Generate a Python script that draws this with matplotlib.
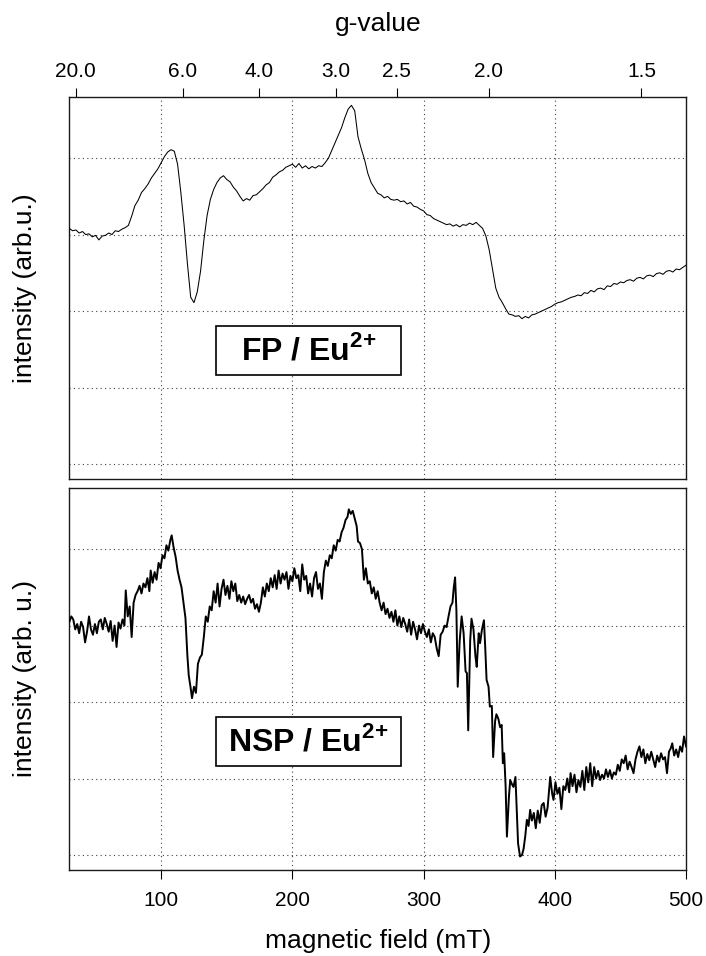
import matplotlib
matplotlib.use("Agg")
import matplotlib.pyplot as plt
from matplotlib.patches import Rectangle

plt.rcParams["font.family"] = ["Liberation Sans", "DejaVu Sans"]
plt.rcParams["mathtext.fontset"] = "custom"
plt.rcParams["mathtext.rm"] = "Liberation Sans"
plt.rcParams["mathtext.bf"] = "Liberation Sans:bold"

# h*nu/mu_B in mT, used to place the g-value ticks
G_CONST = 699.0

# FP / Eu2+ spectrum (magnetic field in mT, intensity arb. u.)
fp_field = [
    30, 32.5, 35, 37.5, 40, 42.5, 45, 47.5, 50, 52.5, 55, 57.5, 60, 62.5, 65, 67.5,
    70, 72.5, 75, 77.5, 80, 82.5, 85, 87.5, 90, 92.5, 95, 97.5, 100, 102.5, 105, 107.5,
    110, 112.5, 115, 117.5, 120, 122.5, 125, 127.5, 130, 132.5, 135, 137.5, 140, 142.5,
    145, 147.5, 150, 152.5, 155, 157.5, 160, 162.5, 165, 167.5, 170, 172.5, 175, 177.5,
    180, 182.5, 185, 187.5, 190, 192.5, 195, 197.5, 200, 202.5, 205, 207.5, 210, 212.5,
    215, 217.5, 220, 222.5, 225, 227.5, 230, 232.5, 235, 237.5, 240, 242.5, 245, 247.5,
    250, 252.5, 255, 257.5, 260, 262.5, 265, 267.5, 270, 272.5, 275, 277.5, 280, 282.5,
    285, 287.5, 290, 292.5, 295, 297.5, 300, 302.5, 305, 307.5, 310, 312.5, 315, 317.5,
    320, 322.5, 325, 327.5, 330, 332.5, 335, 337.5, 340, 342.5, 345, 347.5, 350, 352.5,
    355, 357.5, 360, 362.5, 365, 367.5, 370, 372.5, 375, 377.5, 380, 382.5, 385, 387.5,
    390, 392.5, 395, 397.5, 400, 402.5, 405, 407.5, 410, 412.5, 415, 417.5, 420, 422.5,
    425, 427.5, 430, 432.5, 435, 437.5, 440, 442.5, 445, 447.5, 450, 452.5, 455, 457.5,
    460, 462.5, 465, 467.5, 470, 472.5, 475, 477.5, 480, 482.5, 485, 487.5, 490, 492.5,
    495, 497.5, 500,
]
fp_intensity = [
    3.08, 3.05, 3.06, 3.02, 3.04, 3.00, 3.01, 2.97, 2.99, 2.93, 2.98, 2.99, 3.02, 3.00, 3.05, 3.04,
    3.07, 3.09, 3.12, 3.24, 3.38, 3.45, 3.55, 3.60, 3.66, 3.74, 3.80, 3.86, 3.94, 4.02, 4.08, 4.11,
    4.09, 3.92, 3.55, 3.12, 2.62, 2.18, 2.11, 2.25, 2.52, 2.92, 3.25, 3.46, 3.59, 3.68,
    3.74, 3.77, 3.72, 3.69, 3.62, 3.57, 3.50, 3.44, 3.47, 3.45, 3.51, 3.52, 3.56, 3.60,
    3.65, 3.68, 3.75, 3.78, 3.82, 3.84, 3.88, 3.90, 3.92, 3.88, 3.93, 3.87, 3.90, 3.86,
    3.89, 3.87, 3.90, 3.89, 3.94, 4.00, 4.10, 4.20, 4.30, 4.40, 4.53, 4.64, 4.69, 4.62,
    4.28, 4.12, 3.98, 3.80, 3.68, 3.61, 3.54, 3.52, 3.48, 3.50, 3.46, 3.45, 3.46, 3.43,
    3.44, 3.40, 3.42, 3.37, 3.36, 3.33, 3.31, 3.26, 3.25, 3.21, 3.19, 3.17, 3.15, 3.13,
    3.14, 3.11, 3.13, 3.10, 3.13, 3.12, 3.15, 3.13, 3.16, 3.12, 3.08, 2.98, 2.80, 2.55,
    2.30, 2.18, 2.11, 2.03, 1.96, 1.95, 1.93, 1.94, 1.90, 1.93, 1.91, 1.95, 1.96, 1.98,
    2.00, 2.02, 2.04, 2.06, 2.09, 2.11, 2.12, 2.14, 2.16, 2.18, 2.19, 2.21, 2.20, 2.24,
    2.23, 2.27, 2.25, 2.29, 2.30, 2.28, 2.33, 2.32, 2.36, 2.35, 2.38, 2.37, 2.40, 2.41,
    2.39, 2.43, 2.44, 2.42, 2.46, 2.47, 2.45, 2.49, 2.50, 2.48, 2.52, 2.53, 2.51, 2.55,
    2.54, 2.57, 2.60,
]

# NSP / Eu2+ spectrum
nsp_field = [
    30, 31.5, 33, 34.5, 36, 37.5, 39, 40.5, 42, 43.5, 45, 46.5, 48, 49.5, 51, 52.5, 54, 55.5,
    57, 58.5, 60, 61.5, 63, 64.5, 66, 67.5, 69, 70.5, 72, 73, 74.5, 76, 77.5, 79, 80.5, 82,
    83.5, 85, 86.5, 88, 89.5, 91, 92, 93.5, 95, 96.5, 98, 99.5, 101, 102.5, 104, 105.5, 107,
    108, 109.5, 111, 112.5, 114, 115.5, 117, 118.5, 120, 121, 122.5, 123.5, 125, 126.5, 128,
    129.5, 131, 132.5, 134, 135.5, 137, 138.5, 140, 141.5, 143, 144.5, 146, 147.5, 149, 150.5,
    152, 153.5, 155, 156.5, 158, 159.5, 161, 162.5, 164, 165.5, 167, 168.5, 170, 171.5, 173,
    174.5, 176, 177.5, 179, 180.5, 182, 183.5, 185, 186.5, 188, 189.5, 191, 192.5, 194, 195.5,
    197, 198.5, 200, 201.5, 203, 204.5, 206, 207.5, 209, 210.5, 212, 213.5, 215, 216.5, 218,
    219.5, 221, 222.5, 224, 225.5, 227, 228.5, 230, 231.5, 233, 234.5, 236, 237.5, 239, 240.5,
    242, 243, 244.5, 246, 247.5, 249, 250, 251.5, 253, 254.5, 256, 257.5, 259, 260.5, 262,
    263.5, 265, 266.5, 268, 269.5, 271, 272.5, 274, 275.5, 277, 278.5, 280, 281.5, 283, 284.5,
    286, 287.5, 289, 290.5, 292, 293.5, 295, 296.5, 298, 299.5, 301, 302.5, 304, 305.5, 307,
    308.5, 310, 311.5, 313, 314.5, 316, 317.5, 319, 320.5, 322, 323, 324, 325, 326, 327.5, 329,
    330.5, 332, 333, 334, 335.5, 336.5, 338, 339.5, 340.5, 342, 343, 344.5, 346, 347, 348,
    349.5, 350.5, 352, 353, 354.5, 355.5, 357, 358.3, 359.5, 360.4, 361.4, 362.5, 363.5, 365,
    366, 367.5, 368.5, 370, 371, 372, 373.5, 375, 376.2, 377.5, 378.7, 380, 381.2, 382.5, 384,
    385.5, 387, 388.5, 390, 391.5, 393, 394.5, 396.5, 398, 399, 400.5, 402, 403.5, 405, 406.5,
    408, 409.5, 411, 412, 413.5, 415, 416.5, 418, 419.5, 421, 422.5, 424, 425.5, 427, 428.5,
    430, 431.5, 433, 434.5, 436, 437.5, 439, 440.5, 442, 443.5, 445, 446.5, 448, 449.5, 451,
    452.5, 454, 455.5, 457, 458.5, 460, 461.5, 463, 464.5, 466, 467.5, 469, 470.5, 472, 473.5,
    475, 476.5, 478, 479.5, 481, 482.5, 484, 485.5, 487, 488.5, 489.5, 491, 492.5, 494, 495.5,
    497, 498.5, 500,
]
nsp_intensity = [
    3.05, 3.12, 3.08, 2.95, 3.02, 2.90, 3.05, 2.98, 2.78, 2.92, 3.12, 2.95, 2.88, 3.02, 2.90, 3.05, 3.08, 2.95,
    3.10, 3.02, 2.92, 3.06, 2.80, 3.00, 2.72, 3.04, 2.96, 3.08, 3.00, 3.46, 3.12, 3.25, 2.85, 3.30, 3.40, 3.45,
    3.52, 3.42, 3.55, 3.50, 3.62, 3.45, 3.72, 3.56, 3.70, 3.60, 3.82, 3.75, 3.92, 3.88, 4.05, 3.98, 4.12,
    4.18, 4.02, 3.90, 3.72, 3.60, 3.50, 3.30, 3.10, 2.60, 2.35, 2.18, 2.05, 2.20, 2.12, 2.50,
    2.58, 2.62, 2.85, 3.12, 3.05, 3.25, 3.20, 3.45, 3.30, 3.55, 3.25, 3.48, 3.60, 3.40, 3.52,
    3.35, 3.58, 3.45, 3.55, 3.32, 3.40, 3.30, 3.38, 3.28, 3.35, 3.40, 3.30, 3.35, 3.22, 3.28,
    3.18, 3.30, 3.50, 3.38, 3.55, 3.45, 3.62, 3.50, 3.66, 3.48, 3.72, 3.55, 3.68, 3.60, 3.70,
    3.48, 3.65, 3.58, 3.75, 3.62, 3.66, 3.45, 3.80, 3.60, 3.65, 3.42, 3.55, 3.38, 3.62, 3.70,
    3.48, 3.55, 3.35, 3.70, 3.85, 3.78, 3.92, 3.88, 4.05, 3.98, 4.12, 4.10, 4.22, 4.28, 4.38,
    4.42, 4.52, 4.46, 4.50, 4.40, 4.30, 4.10, 4.08, 4.00, 3.60, 3.75, 3.55, 3.58, 3.42, 3.50,
    3.35, 3.45, 3.30, 3.20, 3.30, 3.15, 3.22, 3.10, 3.18, 3.05, 3.20, 3.00, 3.12, 2.98, 3.10,
    3.02, 2.92, 3.08, 2.88, 3.05, 2.95, 2.82, 3.00, 2.90, 3.02, 2.92, 2.85, 2.95, 2.78, 2.90,
    2.85, 2.70, 2.60, 2.88, 2.92, 3.00, 2.98, 3.12, 3.25, 3.30, 3.50, 3.63, 3.20, 2.20, 2.80, 3.12,
    2.90, 2.40, 2.38, 1.63, 2.80, 3.09, 2.95, 2.60, 2.46, 2.90, 2.77, 2.95, 3.07, 2.70, 2.29,
    2.20, 1.94, 1.95, 1.28, 1.75, 1.84, 1.78, 1.67, 1.70, 1.20, 1.33, 0.90, 0.24, 0.75,
    0.98, 0.92, 0.89, 1.02, 0.60, 0.15, -0.02, 0.00, 0.08, 0.25, 0.46, 0.38, 0.59, 0.45, 0.55,
    0.35, 0.58, 0.42, 0.65, 0.68, 0.50, 0.62, 1.02, 0.80, 0.72, 0.95, 0.80, 0.88, 0.60, 0.90,
    0.85, 1.00, 0.82, 1.07, 0.90, 1.05, 0.82, 0.98, 0.89, 1.10, 0.85, 1.15, 0.95, 1.20, 0.90,
    1.15, 1.00, 1.10, 0.98, 1.05, 1.00, 1.12, 1.02, 1.11, 1.00, 1.08, 1.05, 1.18, 1.10, 1.25,
    1.20, 1.30, 1.12, 1.22, 1.15, 1.07, 1.25, 1.35, 1.42, 1.28, 1.38, 1.20, 1.32, 1.24, 1.35,
    1.25, 1.15, 1.30, 1.22, 1.33, 1.25, 1.28, 1.07, 1.35, 1.40, 1.46, 1.30, 1.38, 1.28, 1.42,
    1.35, 1.55, 1.42,
]

field_ticks = [100, 200, 300, 400, 500]
grid_field = [100, 200, 300, 400]
grid_levels = [0, 1, 2, 3, 4]
g_ticks = [20.0, 6.0, 4.0, 3.0, 2.5, 2.0, 1.5]
g_labels = ["20.0", "6.0", "4.0", "3.0", "2.5", "2.0", "1.5"]
panel_labels = [r"FP / Eu$^{\mathbf{2}\mathbf{+}}$", r"NSP / Eu$^{\mathbf{2}\mathbf{+}}$"]
y_labels = ["intensity (arb.u.)", "intensity (arb. u.)"]

fig = plt.figure(figsize=(7.06, 9.56), dpi=100)
ax_top = fig.add_axes([0.0982, 0.499, 0.8735, 0.3996])
ax_bot = fig.add_axes([0.0982, 0.090, 0.8735, 0.3996])

dot = (0, (1, 3))
spectra = [(fp_field, fp_intensity, 0.75), (nsp_field, nsp_intensity, 1.4)]
for ax, (xs, ys, lw), label, ylab in zip([ax_top, ax_bot], spectra, panel_labels, y_labels):
    ax.set_xlim(30, 500)
    ax.set_ylim(-0.196, 4.80)
    for gx in grid_field:
        ax.axvline(gx, color="0.25", lw=0.8, ls=dot, zorder=1)
    for gy in grid_levels:
        ax.axhline(gy, color="0.25", lw=0.8, ls=dot, zorder=1)
    ax.plot(xs, ys, color="black", lw=lw, zorder=3)
    ax.set_yticks([])
    for sp in ax.spines.values():
        sp.set_linewidth(1.0)
        sp.set_color("0.1")
    ax.add_patch(Rectangle((0.238, 0.271), 0.300, 0.130, transform=ax.transAxes,
                           facecolor="white", edgecolor="black", lw=1.2, zorder=4))
    ax.text(0.388, 0.336, label, transform=ax.transAxes, ha="center", va="center",
            fontsize=23, fontweight="bold", zorder=5)
    bb = ax.get_position()
    fig.text(0.036, bb.y0 + bb.height / 2, ylab, rotation=90, ha="center", va="center",
             fontsize=19)

ax_top.set_xticks([])
ax_bot.set_xticks(field_ticks)
ax_bot.set_xticklabels([str(t) for t in field_ticks])
ax_bot.tick_params(axis="x", direction="out", length=6.5, width=0.8, labelsize=15, pad=9)

sec = ax_top.secondary_xaxis("top")
sec.set_xticks([G_CONST / g for g in g_ticks])
sec.set_xticklabels(g_labels)
sec.tick_params(axis="x", direction="out", length=6.5, width=0.8, labelsize=15, pad=5)
sec.spines["top"].set_visible(False)

fig.text(0.535, 0.975, "g-value", ha="center", va="center", fontsize=19)
fig.text(0.535, 0.016, "magnetic field (mT)", ha="center", va="center", fontsize=19)

fig.savefig("out.png", dpi=100)
